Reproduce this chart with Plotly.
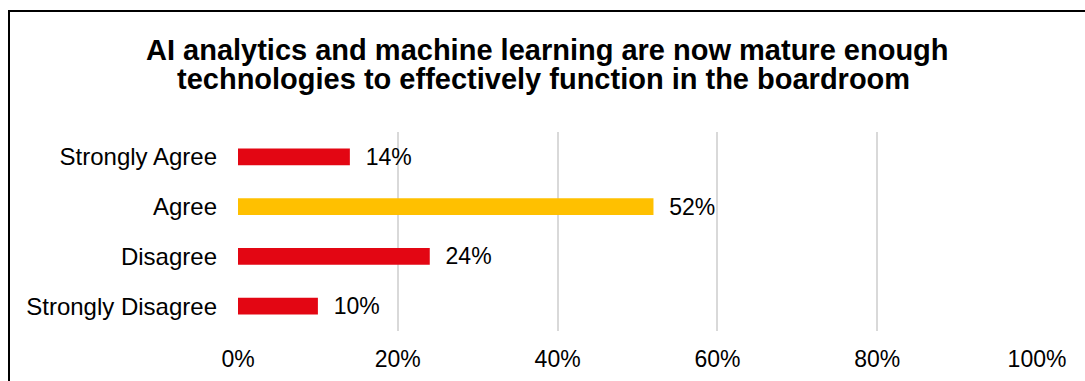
import plotly.graph_objects as go

categories = ["Strongly Agree", "Agree", "Disagree", "Strongly Disagree"]
values = [0.14, 0.52, 0.24, 0.10]
bar_colors = ["#E30613", "#FFC000", "#E30613", "#E30613"]
x_ticks = [0, 0.2, 0.4, 0.6, 0.8, 1.0]
x_tick_labels = ["0%", "20%", "40%", "60%", "80%", "100%"]
title_lines = ["AI analytics and machine learning are now mature enough",
               "technologies to effectively function in the boardroom"]

W, H = 1085, 381
ML, MR, MT, MB = 238, 48, 132, 50
pw = W - ML - MR
ph = H - MT - MB
FONT = "Liberation Sans, Arial, sans-serif"

fig = go.Figure()
fig.add_trace(go.Bar(
    y=categories,
    x=values,
    orientation="h",
    width=0.34,
    marker=dict(color=bar_colors, line=dict(width=0)),
    text=["  " + f"{round(v*100)}%" for v in values],
    textposition="outside",
    constraintext="none",
    cliponaxis=False,
    textfont=dict(family=FONT, size=23, color="#000000"),
))

# outer border (left + top visible, right/bottom outside canvas)
bx0 = (9 - ML) / pw
bx1 = (W + 10 - ML) / pw
by1 = 1 + (MT - 11) / ph
by0 = -(MB + 10) / ph
fig.add_shape(type="rect", xref="paper", yref="paper",
              x0=bx0, x1=bx1, y0=by0, y1=by1,
              line=dict(color="#000000", width=2), fillcolor="rgba(0,0,0,0)", layer="above")

# title as two lines (tight line spacing)
for txt, cx, cy in zip(title_lines, [547, 543], [50, 79]):
    fig.add_annotation(text="<b>" + txt + "</b>", xref="paper", yref="paper",
                       x=(cx - ML) / pw, y=1 + (MT - cy) / ph,
                       xanchor="center", yanchor="middle", showarrow=False,
                       font=dict(family=FONT, size=29, color="#000000"))

fig.update_layout(
    width=W, height=H,
    margin=dict(l=ML, r=MR, t=MT, b=MB, autoexpand=False),
    paper_bgcolor="white", plot_bgcolor="white",
    showlegend=False,
    font=dict(family=FONT, color="#000000"),
    xaxis=dict(range=[0, 1.0], tickvals=x_ticks, ticktext=x_tick_labels,
               showgrid=True, gridcolor="#D9D9D9", gridwidth=1.5, zeroline=False,
               showline=False, ticks="", ticklabelstandoff=12,
               tickfont=dict(size=23, color="#000000"), fixedrange=True),
    yaxis=dict(categoryorder="array", categoryarray=categories, autorange="reversed",
               showgrid=False, zeroline=False, showline=False, ticks="",
               ticklabelstandoff=20,
               tickfont=dict(size=24, color="#000000")),
)

fig.write_html("out.html")
